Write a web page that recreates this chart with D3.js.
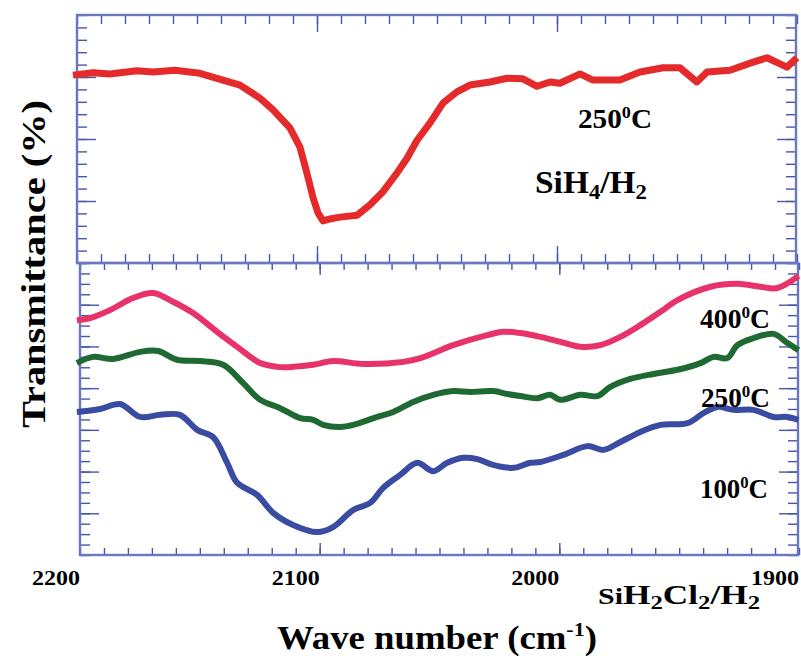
<!DOCTYPE html>
<html><head><meta charset="utf-8">
<script src="https://cdn.jsdelivr.net/npm/d3@7"></script>
<style>
body{margin:0;background:#fff}
svg{display:block}
text{font-family:"Liberation Serif","Times New Roman",serif;font-weight:bold;fill:#000}
</style>
</head><body>
<svg id="c" width="801" height="658"></svg>
<script>
// ---- Data ----
// Top panel: SiH4/H2, 250 °C
const sih4Wave = [2201.7,2193.3,2186.3,2175,2168.3,2159.2,2148.8,2139.2,2132.1,2123.8,2118.3,2115.4,2111.3,2107.1,2104.2,2101.7,2099.6,2097.5,2094.6,2090.4,2083.3,2077.9,2072.5,2066.7,2062.5,2058.3,2052.9,2047.5,2041.7,2036.3,2027.9,2020.8,2014.2,2008.3,2002.9,1998.8,1990.4,1985,1973.8,1965.4,1955.8,1948.8,1941.7,1937.5,1927.9,1918.3,1912.5,1904.2,1900];
const sih4Trans = [3.03,3.07,3.05,3.10,3.08,3.11,3.06,2.95,2.87,2.66,2.47,2.35,2.18,1.87,1.45,1.06,0.81,0.68,0.71,0.74,0.77,0.94,1.15,1.45,1.69,1.98,2.26,2.58,2.76,2.87,2.92,2.98,2.97,2.85,2.92,2.90,3.05,2.95,2.95,3.08,3.15,3.15,2.92,3.08,3.11,3.24,3.31,3.16,3.31];

// Bottom panel: SiH2Cl2/H2
const wave400 = [2201.3,2195.8,2187.5,2177.9,2169.5,2161.2,2152.8,2142.8,2134.4,2124.8,2117.7,2111.1,2102.7,2094.4,2081.8,2065.1,2058.0,2044.3,2030.1,2023.4,2016.3,2007.9,1999.6,1991.2,1982.9,1974.5,1966.2,1957.8,1950.7,1936.9,1925.7,1916.1,1909.0,1900.2];
const trans400 = [5.63,5.68,5.87,6.16,6.28,6.07,5.80,5.35,4.99,4.60,4.51,4.51,4.56,4.65,4.58,4.63,4.72,5.03,5.27,5.35,5.32,5.23,5.11,4.99,5.03,5.23,5.51,5.83,6.11,6.43,6.50,6.43,6.40,6.69];

const wave250 = [2201.3,2194.6,2186.2,2174.9,2167.4,2159.5,2149.9,2140.3,2131.9,2124.8,2116.5,2108.1,2102.7,2098.5,2091.4,2086.0,2076.0,2069.3,2061.0,2052.6,2044.3,2037.2,2027.6,2021.7,2016.3,2009.2,2003.8,1999.6,1991.2,1984.1,1978.7,1970.4,1960.8,1950.7,1941.1,1935.7,1929.9,1925.7,1919.0,1910.6,1904.8,1900.2];
const trans250 = [4.60,4.75,4.70,4.87,4.89,4.68,4.65,4.56,4.12,3.72,3.52,3.28,3.24,3.12,3.07,3.12,3.31,3.43,3.67,3.84,3.93,3.91,3.93,3.86,3.81,3.76,3.84,3.72,3.84,3.81,4.03,4.22,4.34,4.44,4.60,4.75,4.72,5.03,5.20,5.30,5.08,4.91];

const wave100 = [2201.3,2191.6,2183.3,2174.9,2166.6,2158.3,2151.1,2144.5,2138.6,2134.4,2126.1,2119.4,2111.1,2101.0,2094.4,2086.0,2078.9,2073.5,2066.4,2059.3,2052.6,2046.8,2040.1,2034.2,2027.6,2019.2,2012.1,2007.9,1998.3,1988.3,1981.6,1974.5,1966.2,1957.8,1946.6,1939.9,1934.0,1927.4,1919.0,1910.6,1904.8,1900.2];
const trans100 = [3.43,3.50,3.62,3.31,3.36,3.36,3.00,2.83,2.21,1.73,1.44,1.01,0.72,0.55,0.67,1.08,1.25,1.61,1.92,2.21,2.01,2.21,2.33,2.30,2.16,2.09,2.21,2.23,2.40,2.61,2.52,2.71,2.95,3.12,3.16,3.40,3.55,3.48,3.48,3.31,3.31,3.24];

const xTickLabels = [2200, 2100, 2000, 1900];
const tempLabels = ["400", "250", "100"];

// ---- Scales ----
const svg = d3.select("#c");
const frameCol = "#6a78bf", tickCol = "#4656a8";

const xTop = d3.scaleLinear().domain([2200, 1900]).range([77, 797]);
const yTop = d3.scaleLinear().domain([0, 4]).range([263, 15]);
const xBot = d3.scaleLinear().domain([2200, 1900]).range([80, 799]);
const yBot = d3.scaleLinear().domain([0, 7]).range([555, 263]);

const xMinor = d3.range(2200, 1899, -10);
const xMajor = [2100, 2000];

function drawTicks(x, y, xRight, yMinor, yMajor, lx, LX, ly, LY) {
  const g = svg.append("g");
  const y0 = y.range()[0], y1 = y.range()[1], x0 = x.range()[0];
  const add = (axis, tr) => {
    const a = g.append("g").attr("transform", tr).call(axis);
    a.select(".domain").remove();
    a.selectAll("line").attr("stroke", tickCol).attr("stroke-width", 1.4);
  };
  add(d3.axisBottom(x).tickValues(xMinor).tickSize(-lx).tickFormat(""), `translate(0,${y0})`);
  add(d3.axisBottom(x).tickValues(xMajor).tickSize(-LX).tickFormat(""), `translate(0,${y0})`);
  add(d3.axisTop(x).tickValues(xMinor).tickSize(-lx).tickFormat(""), `translate(0,${y1})`);
  add(d3.axisTop(x).tickValues(xMajor).tickSize(-LX).tickFormat(""), `translate(0,${y1})`);
  add(d3.axisLeft(y).tickValues(yMinor).tickSize(-ly).tickFormat(""), `translate(${x0},0)`);
  add(d3.axisLeft(y).tickValues(yMajor).tickSize(-LY).tickFormat(""), `translate(${x0},0)`);
  add(d3.axisRight(y).tickValues(yMinor).tickSize(-ly).tickFormat(""), `translate(${xRight},0)`);
  add(d3.axisRight(y).tickValues(yMajor).tickSize(-LY).tickFormat(""), `translate(${xRight},0)`);
  svg.append("rect")
    .attr("x", x0).attr("y", y1)
    .attr("width", xRight - x0).attr("height", y0 - y1)
    .attr("fill", "none").attr("stroke", frameCol).attr("stroke-width", 2.4);
}

const topRight = 796, botRight = 798;
drawTicks(xTop, yTop, topRight, d3.range(0, 4.01, 0.2), [1, 2, 3], 9, 17, 10, 19);
drawTicks(xBot, yBot, botRight, d3.range(0, 7.01, 0.25), [1, 2, 3, 4, 5, 6], 7, 12, 10, 19);

// ---- Curves ----
function curve(x, y, wv, tv, color, width, cv) {
  const pts = wv.map((w, i) => [w, tv[i]]);
  svg.append("path").datum(pts)
    .attr("d", d3.line().x(d => x(d[0])).y(d => y(d[1])).curve(cv))
    .attr("fill", "none").attr("stroke", color).attr("stroke-width", width)
    .attr("stroke-linejoin", "round");
}
curve(xTop, yTop, sih4Wave, sih4Trans, "#e42a2a", 7, d3.curveLinear);
curve(xBot, yBot, wave400, trans400, "#e8336a", 6, d3.curveCatmullRom.alpha(0.5));
curve(xBot, yBot, wave250, trans250, "#1f6a32", 6, d3.curveCatmullRom.alpha(0.5));
curve(xBot, yBot, wave100, trans100, "#3a4ba2", 6, d3.curveCatmullRom.alpha(0.5));

// ---- X tick labels (right-aligned on tick) ----
svg.append("g").selectAll("text").data(xTickLabels).join("text")
  .attr("x", d => xBot(d)).attr("y", 585)
  .attr("text-anchor", "end").attr("font-size", 20)
  .attr("textLength", 48).attr("lengthAdjust", "spacingAndGlyphs")
  .text(d => d);

// ---- Labels ----
function tempLabel(x, y, num, size, len) {
  const t = svg.append("text").attr("x", x).attr("y", y).attr("font-size", size)
    .attr("textLength", len).attr("lengthAdjust", "spacingAndGlyphs");
  t.append("tspan").text(num);
  t.append("tspan").attr("font-size", size * 0.62).attr("dy", -size * 0.38).text("0");
  t.append("tspan").attr("dy", size * 0.38).text("C");
}
tempLabel(578, 128, "250", 27, 74);
tempLabel(700, 328, tempLabels[0], 27, 70);
tempLabel(701, 407, tempLabels[1], 27, 69);
tempLabel(700, 498, tempLabels[2], 27, 68);

function chem(x, y, parts, size, len) {
  const t = svg.append("text").attr("x", x).attr("y", y).attr("font-size", size)
    .attr("textLength", len).attr("lengthAdjust", "spacingAndGlyphs");
  parts.forEach(([s, sub]) => {
    t.append("tspan").attr("font-size", sub ? size * 0.7 : size)
      .attr("dy", sub ? size * 0.22 : (t.node().childNodes.length ? -size * 0.22 : 0))
      .text(s);
  });
}
// SiH4/H2
(function(){
  const size = 31, t = svg.append("text").attr("x", 535).attr("y", 193).attr("font-size", size)
    .attr("textLength", 112).attr("lengthAdjust", "spacingAndGlyphs");
  t.append("tspan").text("SiH");
  t.append("tspan").attr("font-size", size*0.68).attr("dy", size*0.2).text("4");
  t.append("tspan").attr("dy", -size*0.2).text("/H");
  t.append("tspan").attr("font-size", size*0.68).attr("dy", size*0.2).text("2");
})();
// SiH2Cl2/H2
(function(){
  const size = 27, t = svg.append("text").attr("x", 598).attr("y", 604).attr("font-size", size)
    .attr("textLength", 162).attr("lengthAdjust", "spacingAndGlyphs");
  t.append("tspan").attr("font-size", size*0.85).text("Si");
  t.append("tspan").text("H");
  t.append("tspan").attr("font-size", size*0.7).attr("dy", size*0.2).text("2");
  t.append("tspan").attr("dy", -size*0.2).text("Cl");
  t.append("tspan").attr("font-size", size*0.7).attr("dy", size*0.2).text("2");
  t.append("tspan").attr("dy", -size*0.2).text("/H");
  t.append("tspan").attr("font-size", size*0.7).attr("dy", size*0.2).text("2");
})();

// X axis title
(function(){
  const size = 33, t = svg.append("text").attr("x", 277).attr("y", 649).attr("font-size", size)
    .attr("textLength", 320).attr("lengthAdjust", "spacingAndGlyphs");
  t.append("tspan").text("Wave number (cm");
  t.append("tspan").attr("font-size", size*0.6).attr("dy", -size*0.38).text("-1");
  t.append("tspan").attr("dy", size*0.38).text(")");
})();

// Y axis title
svg.append("text")
  .attr("transform", "translate(45,264) rotate(-90)")
  .attr("text-anchor", "middle").attr("font-size", 33)
  .attr("textLength", 328).attr("lengthAdjust", "spacingAndGlyphs")
  .text("Transmittance (%)");
</script>
</body></html>
